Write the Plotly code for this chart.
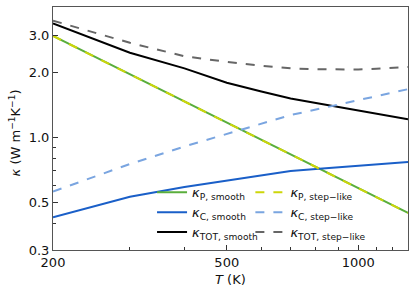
import plotly.graph_objects as go

T = [200, 300, 400, 500, 600, 700, 800, 900, 1000, 1100, 1200, 1300]

kP_smooth = [2.97, 1.97, 1.472, 1.174, 0.976, 0.835, 0.731, 0.647, 0.582, 0.528, 0.484, 0.446]
kP_step = [2.97, 1.97, 1.472, 1.174, 0.976, 0.835, 0.731, 0.647, 0.582, 0.528, 0.484, 0.446]
kC_smooth = [0.426, 0.531, 0.589, 0.630, 0.664, 0.700, 0.714, 0.727, 0.740, 0.751, 0.761, 0.771]
kC_step = [0.561, 0.754, 0.909, 1.04, 1.159, 1.273, 1.35, 1.423, 1.49, 1.557, 1.618, 1.68]
kTOT_smooth = [3.40, 2.48, 2.10, 1.80, 1.64, 1.52, 1.45, 1.39, 1.336, 1.29, 1.25, 1.217]
kTOT_step = [3.50, 2.76, 2.39, 2.25, 2.16, 2.10, 2.08, 2.075, 2.075, 2.09, 2.105, 2.13]

y_ticks = [0.3, 0.5, 1.0, 2.0, 3.0]
y_ticklabels = ["0.3", "0.5", "1.0", "2.0", "3.0"]
y_minor = [0.4, 0.6, 0.7, 0.8, 0.9]
x_ticks = [200, 500, 1000]
x_ticklabels = ["200", "500", "1000"]
x_minor = [300, 400, 600, 700, 800, 900, 1100, 1200]

FONT = "DejaVu Sans"

# smooth series -> first legend column, step-like -> second legend column
series = [
    ("<i>κ</i><sub>P, smooth</sub>", kP_smooth, "#5aae3c", "solid", "legend"),
    ("<i>κ</i><sub>C, smooth</sub>", kC_smooth, "#1a5fc8", "solid", "legend"),
    ("<i>κ</i><sub>TOT, smooth</sub>", kTOT_smooth, "#000000", "solid", "legend"),
    ("<i>κ</i><sub>P, step−like</sub>", kP_step, "#cdd60a", "dash", "legend2"),
    ("<i>κ</i><sub>C, step−like</sub>", kC_step, "#7aa5e0", "dash", "legend2"),
    ("<i>κ</i><sub>TOT, step−like</sub>", kTOT_step, "#666666", "dash", "legend2"),
]

fig = go.Figure()
for name, vals, color, dash, leg in series:
    fig.add_trace(go.Scatter(
        x=T, y=vals, mode="lines", name=name, legend=leg,
        line=dict(color=color, dash=dash, width=2),
    ))

axis_common = dict(
    showgrid=False, zeroline=False, showline=True, mirror=True, automargin=False,
    linecolor="#555555", linewidth=1, ticks="inside", ticklen=5,
    tickcolor="#333333", tickfont=dict(family=FONT, size=13, color="#111111"),
)

fig.update_xaxes(
    type="log", range=[2.30103, 3.11394],
    tickvals=x_ticks, ticktext=x_ticklabels,
    minor=dict(tickmode="array", tickvals=x_minor, ticks="inside", ticklen=3, tickcolor="#333333"),
    **axis_common,
)
fig.update_yaxes(
    type="log", range=[-0.52288, 0.6075],
    tickvals=y_ticks, ticktext=y_ticklabels,
    minor=dict(tickmode="array", tickvals=y_minor, ticks="inside", ticklen=3, tickcolor="#333333"),
    **axis_common,
)

# axis titles
fig.add_annotation(
    text="<i>T</i> (K)", xref="paper", yref="paper", x=0.5, y=-0.12,
    xanchor="center", yanchor="middle", showarrow=False,
    font=dict(family=FONT, size=13, color="#111111"),
)
fig.add_annotation(
    text="<i>κ</i> (W m<sup>−1</sup>K<sup>−1</sup>)", xref="paper", yref="paper",
    x=-0.107, y=0.48, xanchor="center", yanchor="middle", textangle=-90,
    showarrow=False, font=dict(family=FONT, size=13, color="#111111"),
)

leg_common = dict(
    orientation="v", xanchor="left", yanchor="top", itemwidth=30,
    bgcolor="rgba(0,0,0,0)", font=dict(family=FONT, size=13, color="#111111"),
    tracegroupgap=0, borderwidth=0,
)

fig.update_layout(
    width=415, height=293,
    margin=dict(l=53, r=7, t=7, b=43),
    paper_bgcolor="white", plot_bgcolor="white",
    font=dict(family=FONT, size=13, color="#111111"),
    legend=dict(x=0.279, y=0.299, **leg_common),
    legend2=dict(x=0.556, y=0.299, **leg_common),
)

fig.write_html(
    "out.html",
    config={"displayModeBar": False},
    post_script="document.body.style.margin='0';",
)
